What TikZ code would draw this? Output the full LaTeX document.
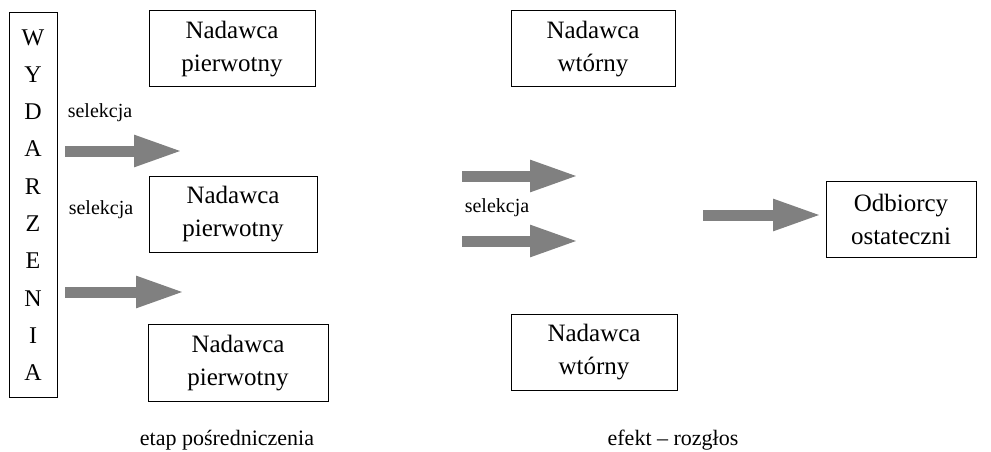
\documentclass[tikz,border=0pt]{standalone}
\usepackage{fontspec}
\setmainfont{Liberation Serif}
\usepackage{tikz}
\usetikzlibrary{arrows.meta}

\begin{document}
\begin{tikzpicture}[
    x=1pt, y=-1pt,
    box/.style={rectangle, draw=black, line width=1pt, minimum width=166pt, minimum height=76pt, align=center, inner sep=0pt, font=\fontsize{25}{33}\selectfont},
    arrow/.style={-{Triangle[length=49pt, width=29pt]}, line width=11pt, draw=gray},
    label/.style={font=\fontsize{20}{22}\selectfont},
    caption/.style={font=\fontsize{22}{24}\selectfont},
]
\useasboundingbox (0,0) rectangle (991,452);

% Events
\node[draw=black, line width=1pt, minimum width=48pt, minimum height=385pt, inner sep=0pt, align=center,
      font=\fontsize{24}{37.3}\selectfont] (wyd) at (33,205) {W\\Y\\D\\A\\R\\Z\\E\\N\\I\\A};

% Primary senders
\node[box] (prim1) at (232,49) {Nadawca\\pierwotny};
\node[box, minimum width=168pt] (prim2) at (233,214) {Nadawca\\pierwotny};
\node[box, minimum width=180pt, minimum height=77pt] (prim3) at (238,363) {Nadawca\\pierwotny};

% Secondary senders
\node[box, minimum width=164pt] (sec1) at (593,49) {Nadawca\\wtórny};
\node[box] (sec2) at (594,352) {Nadawca\\wtórny};

% Final receivers
\node[box, minimum width=150pt] (odb) at (901,219) {Odbiorcy\\ostateczni};

% Arrow ends
\coordinate (s1a) at (65,151);  \coordinate (s1b) at (183,151);
\coordinate (s2a) at (65,292);  \coordinate (s2b) at (185,292);
\coordinate (s3a) at (462,176); \coordinate (s3b) at (579,176);
\coordinate (s4a) at (462,241); \coordinate (s4b) at (579,241);
\coordinate (s5a) at (703,215); \coordinate (s5b) at (822,215);

% Arrows
\draw[arrow] (s1a) -- (s1b);
\draw[arrow] (s2a) -- (s2b);
\draw[arrow] (s3a) -- (s3b);
\draw[arrow] (s4a) -- (s4b);
\draw[arrow] (s5a) -- (s5b);

% Selection labels
\node[label] (sel1) at (100,113) {selekcja};
\node[label] (sel2) at (101,210) {selekcja};
\node[label] (sel3) at (497,208) {selekcja};

% Stages
\node[caption] (etap) at (227,440) {etap pośredniczenia};
\node[caption] (efekt) at (673,440) {efekt – rozgłos};

\end{tikzpicture}
\end{document}
